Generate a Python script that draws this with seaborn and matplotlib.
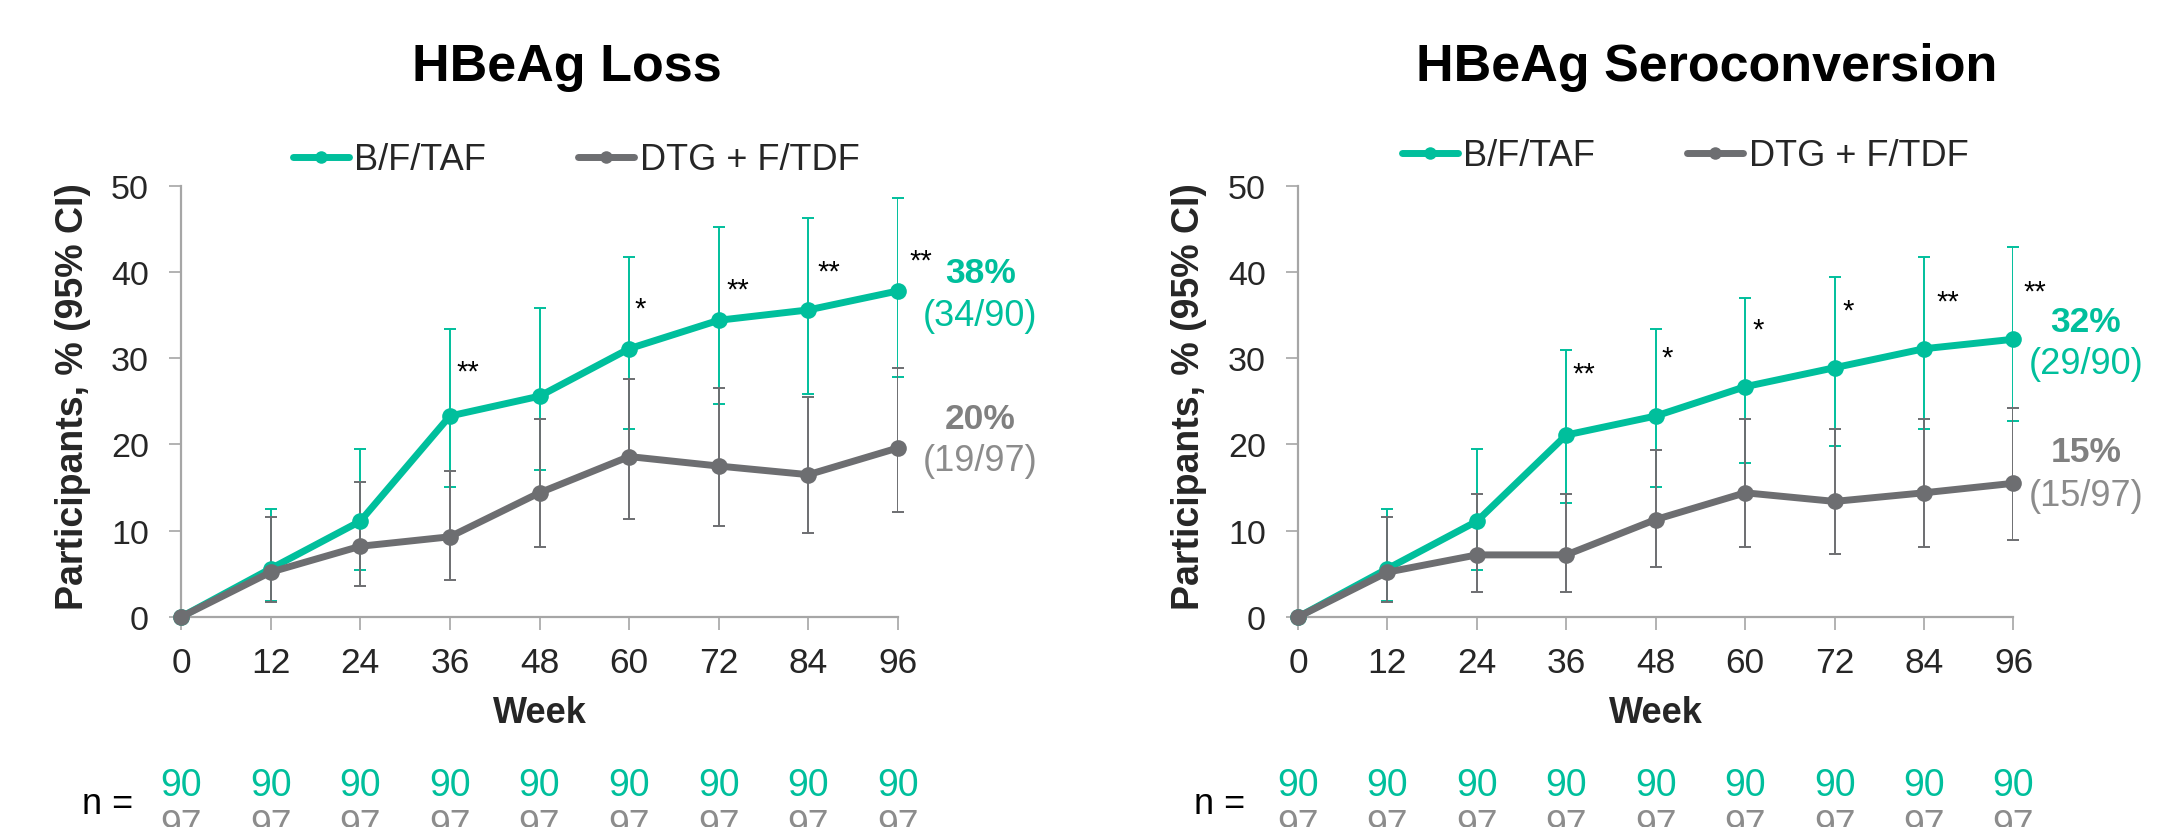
import matplotlib
matplotlib.use("Agg")
import matplotlib.pyplot as plt
from matplotlib.lines import Line2D
import seaborn as sns
import pandas as pd
import numpy as np

# ---------------- data ----------------
weeks = [0, 12, 24, 36, 48, 60, 72, 84, 96]
arms = ["B/F/TAF", "DTG + F/TDF"]
titles = ["HBeAg Loss", "HBeAg Seroconversion"]

# Panel 1: HBeAg Loss
loss_bft = [0, 5.6, 11.1, 23.3, 25.6, 31.1, 34.4, 35.6, 37.8]
loss_bft_lo = [0, 1.8, 5.5, 15.1, 17.0, 21.8, 24.7, 25.8, 27.8]
loss_bft_hi = [0, 12.5, 19.5, 33.4, 35.8, 41.7, 45.2, 46.3, 48.6]
loss_dtg = [0, 5.2, 8.2, 9.3, 14.4, 18.6, 17.5, 16.5, 19.6]
loss_dtg_lo = [0, 1.7, 3.6, 4.3, 8.1, 11.4, 10.6, 9.7, 12.2]
loss_dtg_hi = [0, 11.6, 15.6, 16.9, 23.0, 27.6, 26.6, 25.5, 28.9]

# Panel 2: HBeAg Seroconversion
sero_bft = [0, 5.6, 11.1, 21.1, 23.3, 26.7, 28.9, 31.1, 32.2]
sero_bft_lo = [0, 1.8, 5.5, 13.2, 15.1, 17.9, 19.8, 21.8, 22.7]
sero_bft_hi = [0, 12.5, 19.5, 31.0, 33.4, 37.0, 39.4, 41.7, 42.9]
sero_dtg = [0, 5.2, 7.2, 7.2, 11.3, 14.4, 13.4, 14.4, 15.5]
sero_dtg_lo = [0, 1.7, 2.9, 2.9, 5.8, 8.1, 7.3, 8.1, 8.9]
sero_dtg_hi = [0, 11.6, 14.3, 14.3, 19.4, 23.0, 21.8, 23.0, 24.2]

# significance markers (week, label)
loss_sig = [(36, "**"), (60, "*"), (72, "**"), (84, "**"), (96, "**")]
sero_sig = [(36, "**"), (48, "*"), (60, "*"), (72, "*"), (84, "**"), (96, "**")]

# end labels
loss_end = [("38%", "(34/90)"), ("20%", "(19/97)")]
sero_end = [("32%", "(29/90)"), ("15%", "(15/97)")]

n_bft = [90, 90, 90, 90, 90, 90, 90, 90, 90]
n_dtg = [97, 97, 97, 97, 97, 97, 97, 97, 97]

# ---------------- style ----------------
TEAL = "#00BF9C"
GRAY = "#6D6E71"
LGRAY = "#8C8C8C"
SPINE = "#A6A6A6"

sns.set_theme(style="ticks")
plt.rcParams["font.family"] = ["Liberation Sans", "DejaVu Sans"]

W, H = 2181, 828
fig = plt.figure(figsize=(W / 100, H / 100), dpi=100)

def fx(px):
    return px / W

def fy(py):
    return 1 - py / H

panels = [
    dict(title=titles[0], bft=loss_bft, bft_lo=loss_bft_lo, bft_hi=loss_bft_hi,
         dtg=loss_dtg, dtg_lo=loss_dtg_lo, dtg_hi=loss_dtg_hi, sig=loss_sig,
         end=loss_end,
         rect=[fx(181), fy(618), fx(898 - 181), (618 - 186.7) / H],
         title_x=567, leg_x=293, leg_y=161, n_x=108,
         sig_y=[29.1, 36.5, 38.7, 40.8, 42.0],
         sig_dx=[2.4, 1.5, 2.6, 2.8, 3.0],
         end_x=107.0, end_y=[(39.9, 35.0), (23.0, 18.1)], ylab_x=-0.1506),
    dict(title=titles[1], bft=sero_bft, bft_lo=sero_bft_lo, bft_hi=sero_bft_hi,
         dtg=sero_dtg, dtg_lo=sero_dtg_lo, dtg_hi=sero_dtg_hi, sig=sero_sig,
         end=sero_end,
         rect=[fx(1298), fy(618), fx(2013.5 - 1298), (618 - 186.7) / H],
         title_x=1707, leg_x=1402, leg_y=157, n_x=1220,
         sig_y=[28.9, 30.8, 34.0, 36.2, 37.3, 38.4],
         sig_dx=[2.4, 1.5, 1.7, 1.8, 3.2, 2.8],
         end_x=105.7, end_y=[(34.3, 29.4), (19.2, 14.1)], ylab_x=-0.1523),
]

for p in panels:
    ax = fig.add_axes(p["rect"])
    df = pd.DataFrame({
        "Week": weeks * 2,
        "Pct": list(p["bft"]) + list(p["dtg"]),
        "Arm": [arms[0]] * len(weeks) + [arms[1]] * len(weeks),
    })
    # error bars (behind the lines)
    for vals, lo, hi, col in [(p["bft"], p["bft_lo"], p["bft_hi"], TEAL),
                              (p["dtg"], p["dtg_lo"], p["dtg_hi"], GRAY)]:
        v = np.array(vals)
        ax.errorbar(weeks, v, yerr=[v - np.array(lo), np.array(hi) - v],
                    fmt="none", ecolor=col, elinewidth=1.4, capsize=4,
                    capthick=1.4, zorder=1.5)
    sns.lineplot(data=df, x="Week", y="Pct", hue="Arm", hue_order=arms,
                 palette={arms[0]: TEAL, arms[1]: GRAY}, marker="o",
                 markersize=12, markeredgewidth=0, linewidth=5, ax=ax,
                 legend=False, errorbar=None, zorder=3)
    for ln in ax.lines:
        ln.set_clip_on(False)

    ax.set_xlim(0, 96)
    ax.set_ylim(0, 50)
    ax.set_xticks(weeks)
    ax.set_yticks(range(0, 51, 10))
    sns.despine(ax=ax)
    for s in ["left", "bottom"]:
        ax.spines[s].set_color(SPINE)
        ax.spines[s].set_linewidth(1.6)
    ax.tick_params(axis="both", direction="out", length=9, width=1.2,
                   color=SPINE, bottom=True, left=True)
    ax.tick_params(axis="x", labelsize=25.5, pad=12)
    ax.tick_params(axis="y", labelsize=24.5, pad=14)

    ax.set_xlabel("Week", fontsize=26, fontweight="bold")
    ax.xaxis.label.set_va("center")
    ax.xaxis.set_label_coords(0.5, -(714 - 618) / 431.3)
    ax.set_ylabel("Participants, % (95% CI)", fontsize=27, fontweight="bold")
    ax.yaxis.label.set_va("center")
    ax.yaxis.set_label_coords(p["ylab_x"], 0.513)

    # significance stars
    for (wk, lab), yv, dx in zip(p["sig"], p["sig_y"], p["sig_dx"]):
        ax.text(wk + dx, yv - 0.7, lab, ha="center", va="center",
                fontsize=21, color="black")

    # end labels
    (b_pct, b_frac), (d_pct, d_frac) = p["end"]
    (by1, by2), (dy1, dy2) = p["end_y"]
    kw = dict(ha="center", va="center", clip_on=False)
    ax.text(p["end_x"], by1, b_pct, fontsize=25.5, fontweight="bold", color=TEAL, **kw)
    ax.text(p["end_x"], by2, b_frac, fontsize=26, color=TEAL, **kw)
    ax.text(p["end_x"], dy1, d_pct, fontsize=25.5, fontweight="bold", color="#808080", **kw)
    ax.text(p["end_x"], dy2, d_frac, fontsize=26, color=LGRAY, **kw)

    # title
    fig.text(fx(p["title_x"]), fy(67), p["title"], ha="center", va="center",
             fontsize=37.5, fontweight="bold", color="black")

    # legend
    handles = [Line2D([], [], color=TEAL, lw=5, marker="o", ms=9, mew=0),
               Line2D([], [], color=GRAY, lw=5, marker="o", ms=9, mew=0)]
    ax.legend(handles, arms, loc="center left",
              bbox_to_anchor=(fx(p["leg_x"]), fy(p["leg_y"])),
              bbox_transform=fig.transFigure, ncol=2, frameon=False,
              borderpad=0, borderaxespad=0, handlelength=1.55,
              handletextpad=0.15, columnspacing=2.55, fontsize=26)

    # n row
    fig.text(fx(p["n_x"]), fy(805), "n =", ha="center", va="center",
             fontsize=26, color="black")
    tr = matplotlib.transforms.blended_transform_factory(ax.transData, fig.transFigure)
    for wk, nb, nd in zip(weeks, n_bft, n_dtg):
        fig.text(wk, fy(786), str(nb), transform=tr, ha="center", va="center",
                 fontsize=27, color=TEAL)
        fig.text(wk, fy(827), str(nd), transform=tr, ha="center", va="center",
                 fontsize=27, color=LGRAY)

fig.savefig("out.png", dpi=100)
